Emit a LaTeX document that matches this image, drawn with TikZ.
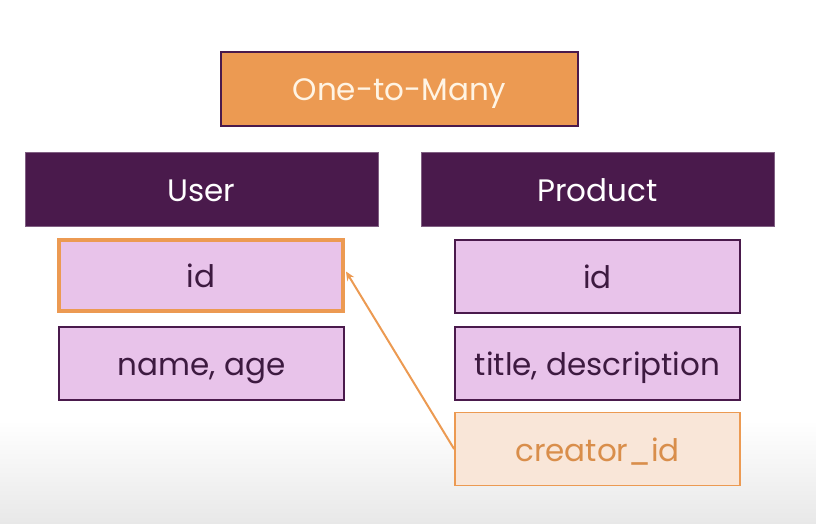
\documentclass[tikz,border=0pt]{standalone}
\usepackage{fontspec}
\setmainfont{Poppins}
\usetikzlibrary{arrows.meta}
\definecolor{hdr}{HTML}{4A1A4C}
\definecolor{cell}{HTML}{E8C3EA}
\definecolor{cellline}{HTML}{4A1A4C}
\definecolor{orng}{HTML}{EC9A52}
\definecolor{peach}{HTML}{F9E6D8}
\definecolor{celltext}{HTML}{3D1A40}
\definecolor{cream}{HTML}{FFF4E4}
\begin{document}
\begin{tikzpicture}[x=1pt,y=-1pt,
  txt/.style={font=\fontsize{31}{36}\selectfont,inner sep=0pt,text height=30pt,text depth=6pt},
  title/.style={txt,draw=hdr,line width=1.2pt,fill=orng,minimum width=357pt,minimum height=74pt,text=cream},
  header/.style={txt,draw=hdr!70!white,line width=0.8pt,fill=hdr,minimum width=353pt,minimum height=74pt,text=white},
  field/.style={txt,draw=cellline,line width=2pt,fill=cell,minimum width=285pt,minimum height=73pt,text=celltext},
  keyfield/.style={field,draw=orng,line width=4pt,minimum width=284pt,minimum height=71pt},
  fkfield/.style={field,draw=orng,fill=peach,text=orng!92!black,line width=1.8pt},
  link/.style={draw=orng,line width=2pt,-{Stealth[length=9pt,width=8pt]}}
]
\useasboundingbox (0,0) rectangle (816,524);
\shade[top color=white,bottom color=black!9] (0,420) rectangle (816,524);
\node[title] (t) at (399.5,89) {One-to-Many};
\node[header] (user) at (201.5,189) {User};
\node[header] (prod) at (597.5,189) {Product};
\node[keyfield] (uid) at (201,275.5) {id};
\node[field] (uname) at (201.5,363) {name, age};
\node[field] (pid) at (597.5,276.5) {id};
\node[field] (ptitle) at (597.5,363) {title, description};
\node[fkfield] (pc) at (597.5,449) {creator\_id};
\draw[link] (pc.west) -- ([xshift=1pt,yshift=4pt]uid.east);
\end{tikzpicture}
\end{document}
